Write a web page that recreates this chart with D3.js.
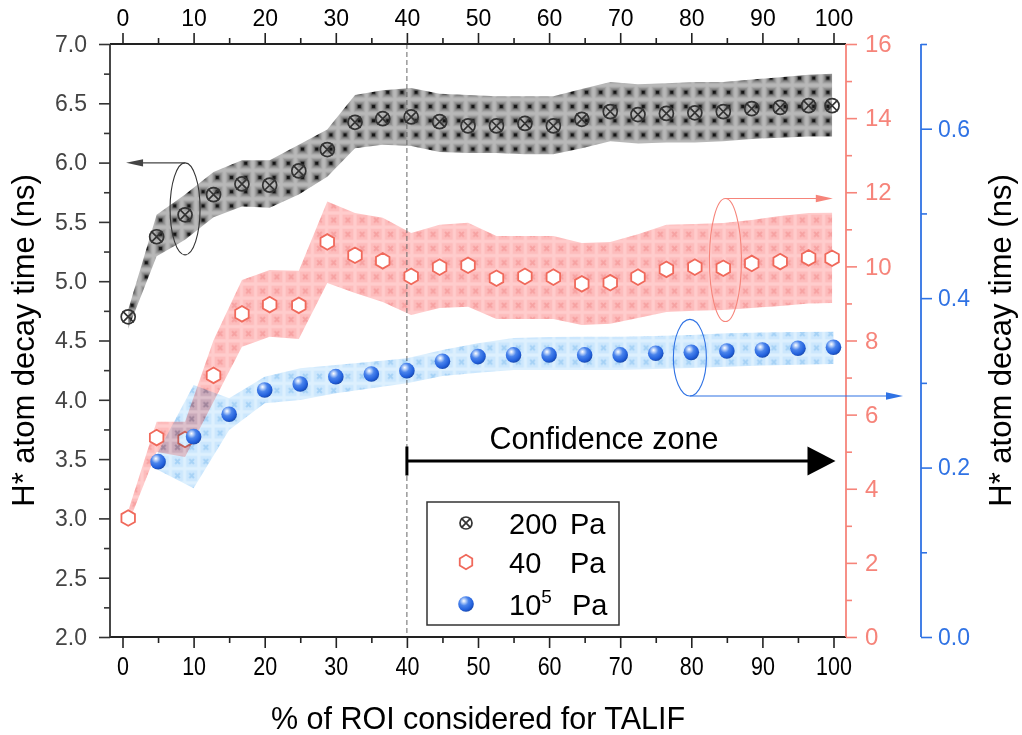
<!DOCTYPE html>
<html><head><meta charset="utf-8">
<script src="https://cdn.jsdelivr.net/npm/d3@7"></script>
<style>
body{margin:0;background:#fff;}
svg text{font-family:"Liberation Sans", Arial, Helvetica, sans-serif;}
</style></head><body>
<svg id="chart" width="1022" height="735"></svg>
<script>
// ---- data -------------------------------------------------------------
// % of ROI (shared by the 200 Pa and 40 Pa series)
const roiPct = [0.8,4.8,8.8,12.8,16.8,20.7,24.8,28.8,32.7,36.6,40.6,44.6,48.6,52.6,56.6,60.6,64.6,68.6,72.5,76.5,80.5,84.5,88.5,92.5,96.5,99.8];

// 200 Pa (left axis, ns)
const tau200   = [4.70,5.375,5.56,5.73,5.82,5.81,5.93,6.11,6.34,6.37,6.385,6.345,6.31,6.31,6.33,6.31,6.365,6.43,6.405,6.415,6.42,6.43,6.455,6.465,6.48,6.48];
const tau200Lo = [4.60,5.21,5.35,5.54,5.63,5.62,5.73,5.88,6.12,6.15,6.14,6.09,6.08,6.08,6.07,6.07,6.12,6.18,6.16,6.17,6.17,6.18,6.20,6.21,6.22,6.22];
const tau200Hi = [4.76,5.56,5.73,5.92,6.02,6.02,6.15,6.28,6.57,6.61,6.63,6.58,6.57,6.56,6.56,6.56,6.62,6.68,6.66,6.67,6.68,6.68,6.70,6.72,6.74,6.75];

// 40 Pa (pink axis, ns)
const tau40   = [3.21,5.38,5.33,7.06,8.72,8.97,8.95,10.66,10.30,10.15,9.73,9.98,10.03,9.68,9.73,9.71,9.53,9.56,9.71,9.92,9.98,9.95,10.08,10.13,10.23,10.22];
const tau40Lo = [3.05,4.99,4.86,6.35,7.83,8.10,8.04,9.55,9.28,9.04,8.69,8.88,8.91,8.58,8.58,8.58,8.42,8.45,8.61,8.77,8.80,8.82,8.88,8.93,9.00,9.01];
const tau40Hi = [3.40,5.81,5.81,8.01,9.63,9.90,9.88,11.75,11.44,11.31,10.90,11.12,11.18,10.82,10.82,10.82,10.63,10.66,10.87,11.12,11.14,11.17,11.25,11.36,11.44,11.45];

// 10^5 Pa (blue axis, ns)
const roiAtm   = [5,10,15,20,25,30,35,40,45,50,55,60,65,70,75,80,85,90,95,100];
const tauAtm   = [0.207,0.2365,0.263,0.2916,0.2987,0.3073,0.3105,0.3144,0.3255,0.331,0.333,0.333,0.333,0.333,0.335,0.336,0.3376,0.3388,0.3408,0.342];
const tauAtmLo = [0.1971,0.1755,0.2444,0.2759,0.2798,0.2877,0.2936,0.2995,0.3081,0.3120,0.3152,0.3152,0.3152,0.3152,0.3164,0.3176,0.3191,0.3205,0.3214,0.3223];
const tauAtmHi = [0.2184,0.2975,0.2818,0.3073,0.3172,0.3211,0.3250,0.3290,0.3388,0.3467,0.3530,0.3541,0.3545,0.3545,0.3553,0.3565,0.3585,0.3595,0.3601,0.3604];

// axis ticks
const xTicks = [0,10,20,30,40,50,60,70,80,90,100];
const xMinor = [5,15,25,35,45,55,65,75,85,95];
const leftTicks = [2.0,2.5,3.0,3.5,4.0,4.5,5.0,5.5,6.0,6.5,7.0];
const leftMinor = [2.25,2.75,3.25,3.75,4.25,4.75,5.25,5.75,6.25,6.75];
const pinkTicks = [0,2,4,6,8,10,12,14,16];
const pinkMinor = [1,3,5,7,9,11,13,15];
const blueTicks = [0.0,0.2,0.4,0.6];
const blueMinor = [0.1,0.3,0.5,0.7];

const legendLabels = ["200", "40", "10"];

// ---- layout ------------------------------------------------------------
const L = 110, R = 846, T = 44, B = 637, BLUE_AX = 921;
const PINK = "#f6847a", PINK_MK = "#f0695b", BLUE = "#2f72e4", DARK = "#333";

const svg = d3.select("#chart");
const x  = d3.scaleLinear([0,100],[122.5,833.5]);
const yL = d3.scaleLinear([2,7],[B,T]);
const yP = d3.scaleLinear([0,16],[B,T]);
const yB = d3.scaleLinear([0,0.7],[B,T]);

// ---- patterns / gradients ---------------------------------------------
const defs = svg.append("defs");
function cellPattern(id, bg, border, mark){
  const p = defs.append("pattern").attr("id",id).attr("patternUnits","userSpaceOnUse")
    .attr("width",14.2).attr("height",14.2);
  p.append("rect").attr("width",14.2).attr("height",14.2).attr("fill",border);
  p.append("rect").attr("x",1.6).attr("y",1.6).attr("width",11).attr("height",11).attr("fill",bg);
  p.append("path").attr("d","M4.8,4.8L9.4,9.4M9.4,4.8L4.8,9.4").attr("stroke",mark).attr("stroke-width",2);
  return p;
}
// gray box pattern: nested squares darkening toward a black core
const pg = defs.append("pattern").attr("id","pBlack").attr("patternUnits","userSpaceOnUse")
  .attr("width",14.2).attr("height",14.2).attr("x",-2.8).attr("y",0);
[[0,14.2,"#b8b8b8"],[1.6,11,"#a4a4a4"],[3,8.2,"#8c8c8c"],[4.4,5.4,"#626262"],[5.5,3.2,"#151515"]]
  .forEach(([o,s,c]) => pg.append("rect").attr("x",o).attr("y",o).attr("width",s).attr("height",s).attr("fill",c));
cellPattern("pPink","#fdbcbc","#ffcccc","#f7a2a2");
cellPattern("pBlue","#cce7fd","#ddf0fe","#a6d2f6");

const rg = defs.append("radialGradient").attr("id","gSphere").attr("cx","38%").attr("cy","34%").attr("r","70%").attr("fx","36%").attr("fy","30%");
[["0%","#ffffff"],["16%","#bcd3f9"],["42%","#4a84ec"],["78%","#2260dc"],["100%","#1746a8"]]
  .forEach(([o,c]) => rg.append("stop").attr("offset",o).attr("stop-color",c));

// ---- bands -------------------------------------------------------------
function band(xs, lo, hi, ys){
  return d3.area().x((d,i)=>x(xs[i])).y0((d,i)=>ys(lo[i])).y1((d,i)=>ys(hi[i]))(xs);
}
svg.append("path").attr("d",band(roiPct,tau200Lo,tau200Hi,yL)).attr("fill","url(#pBlack)");
svg.append("path").attr("d",band(roiPct,tau40Lo,tau40Hi,yP)).attr("fill","url(#pPink)");

// reference line at 40 %
svg.append("line").attr("x1",x(40)).attr("x2",x(40)).attr("y1",T).attr("y2",B)
  .attr("stroke","#666").attr("stroke-width",1).attr("stroke-dasharray","5,3");

// ---- markers -----------------------------------------------------------
function crossCircle(g, r){
  g.append("circle").attr("r",r).attr("fill","none").attr("stroke",DARK).attr("stroke-width",1.7);
  const k = r*0.8;
  g.append("path").attr("d",`M${-k},${-k}L${k},${k}M${k},${-k}L${-k},${k}`).attr("stroke",DARK).attr("stroke-width",1.7);
}
function hexagon(g, r, fill){
  const pts = d3.range(6).map(i => { const a = Math.PI/3*i - Math.PI/2; return [r*Math.cos(a), r*Math.sin(a)]; });
  g.append("polygon").attr("points",pts.map(p=>p.join(",")).join(" "))
   .attr("fill",fill).attr("stroke",PINK_MK).attr("stroke-width",1.8);
}
function sphere(g, r){
  g.append("circle").attr("r",r).attr("fill","url(#gSphere)");
}

svg.append("g").selectAll("g").data(roiPct).join("g")
  .attr("transform",(d,i)=>`translate(${x(d)},${yL(tau200[i])})`)
  .each(function(){ crossCircle(d3.select(this),7); });

svg.append("g").selectAll("g").data(roiPct).join("g")
  .attr("transform",(d,i)=>`translate(${x(d)},${yP(tau40[i])})`)
  .each(function(){ hexagon(d3.select(this),7.8,"#fff"); });

svg.append("path").attr("d",band(roiAtm,tauAtmLo,tauAtmHi,yB)).attr("fill","url(#pBlue)")
  .style("mix-blend-mode","multiply");

svg.append("g").selectAll("g").data(roiAtm).join("g")
  .attr("transform",(d,i)=>`translate(${x(d)},${yB(tauAtm[i])})`)
  .each(function(){ sphere(d3.select(this),7.8); });

// ---- axes --------------------------------------------------------------
function styleAxis(g, color, labelColor, size){
  g.select(".domain").remove();
  g.selectAll(".tick line").attr("stroke",color).attr("stroke-width",1.6);
  g.selectAll(".tick text").attr("fill",labelColor).attr("font-size",size)
   .style("font-family",'"Liberation Sans", Arial, sans-serif');
}
const fmt1 = d3.format(".1f");

// bottom (slightly condensed digits)
let g = svg.append("g").attr("transform",`translate(0,${B})`)
  .call(d3.axisBottom(x).tickValues(xTicks).tickSize(11).tickPadding(9));
styleAxis(g,"#222","#000",25);
g.selectAll(".tick text").attr("transform","scale(0.86,1)");
g = svg.append("g").attr("transform",`translate(0,${B})`)
  .call(d3.axisBottom(x).tickValues(xMinor).tickSize(6).tickFormat(""));
styleAxis(g,"#222","#000",23);
// top
g = svg.append("g").attr("transform",`translate(0,${T})`)
  .call(d3.axisTop(x).tickValues(xTicks).tickSize(11).tickPadding(7));
styleAxis(g,"#222","#000",23);
g = svg.append("g").attr("transform",`translate(0,${T})`)
  .call(d3.axisTop(x).tickValues(xMinor).tickSize(6).tickFormat(""));
styleAxis(g,"#222","#000",23);
// left
g = svg.append("g").attr("transform",`translate(${L},0)`)
  .call(d3.axisLeft(yL).tickValues(leftTicks).tickSize(11).tickPadding(12).tickFormat(fmt1));
styleAxis(g,DARK,"#444",23);
g = svg.append("g").attr("transform",`translate(${L},0)`)
  .call(d3.axisLeft(yL).tickValues(leftMinor).tickSize(6).tickFormat(""));
styleAxis(g,DARK,"#444",23);
// pink right
g = svg.append("g").attr("transform",`translate(${R},0)`)
  .call(d3.axisRight(yP).tickValues(pinkTicks).tickSize(11).tickPadding(8));
styleAxis(g,PINK,PINK,24);
g = svg.append("g").attr("transform",`translate(${R},0)`)
  .call(d3.axisRight(yP).tickValues(pinkMinor).tickSize(6).tickFormat(""));
styleAxis(g,PINK,PINK,23);
// blue right
g = svg.append("g").attr("transform",`translate(${BLUE_AX},0)`)
  .call(d3.axisRight(yB).tickValues(blueTicks).tickSize(11).tickPadding(6).tickFormat(fmt1));
styleAxis(g,BLUE,BLUE,23);
g = svg.append("g").attr("transform",`translate(${BLUE_AX},0)`)
  .call(d3.axisRight(yB).tickValues(blueMinor).tickSize(6).tickFormat(""));
styleAxis(g,BLUE,BLUE,23);

// axis lines
svg.append("line").attr("x1",L).attr("x2",R).attr("y1",B).attr("y2",B).attr("stroke","#222").attr("stroke-width",1.8);
svg.append("line").attr("x1",L).attr("x2",R).attr("y1",T).attr("y2",T).attr("stroke","#222").attr("stroke-width",1.8);
svg.append("line").attr("x1",L).attr("x2",L).attr("y1",T).attr("y2",B).attr("stroke",DARK).attr("stroke-width",1.8);
svg.append("line").attr("x1",R).attr("x2",R).attr("y1",T).attr("y2",B).attr("stroke",PINK).attr("stroke-width",1.8);
svg.append("line").attr("x1",BLUE_AX).attr("x2",BLUE_AX).attr("y1",T).attr("y2",B).attr("stroke",BLUE).attr("stroke-width",1.8);

// axis titles
svg.append("text").attr("transform",`translate(34,${(T+B)/2}) rotate(-90)`).attr("text-anchor","middle")
  .attr("font-size",31).attr("fill","#000").text("H* atom decay time (ns)");
svg.append("text").attr("transform",`translate(1011,${(T+B)/2}) rotate(-90)`).attr("text-anchor","middle")
  .attr("font-size",31).attr("fill","#000").text("H* atom decay time (ns)");
svg.append("text").attr("x",(L+R)/2).attr("y",729).attr("text-anchor","middle")
  .attr("font-size",30.5).attr("fill","#000").text("% of ROI considered for TALIF");

// ---- annotations -------------------------------------------------------
function arrowHead(xTip, y, dir, len, half, color){
  return svg.append("polygon")
    .attr("points",`${xTip},${y} ${xTip-dir*len},${y-half} ${xTip-dir*len},${y+half}`)
    .attr("fill",color);
}
// 200 Pa -> left axis
{
  const cx = x(roiPct[2]), cy = yL(5.61), rx = 15, ry = 46;
  svg.append("ellipse").attr("cx",cx).attr("cy",cy).attr("rx",rx).attr("ry",ry)
    .attr("fill","none").attr("stroke",DARK).attr("stroke-width",1.1);
  const tip = x(0.5);
  svg.append("line").attr("x1",cx).attr("x2",tip+14).attr("y1",cy-ry).attr("y2",cy-ry).attr("stroke","#444").attr("stroke-width",1.1);
  arrowHead(tip, cy-ry, -1, 17, 3.6, "#444");
}
// 40 Pa -> pink axis
{
  const cx = x(84.8), cy = yP(10.17), rx = 16, ry = 61.5;
  svg.append("ellipse").attr("cx",cx).attr("cy",cy).attr("rx",rx).attr("ry",ry)
    .attr("fill","none").attr("stroke",PINK).attr("stroke-width",1.1);
  const tip = x(99.9);
  svg.append("line").attr("x1",cx).attr("x2",tip-14).attr("y1",cy-ry).attr("y2",cy-ry).attr("stroke",PINK).attr("stroke-width",1.1);
  arrowHead(tip, cy-ry, 1, 17, 3.8, PINK);
}
// 10^5 Pa -> blue axis
{
  const cx = x(79.8), cy = yB(0.3297), rx = 16.5, ry = 38.3;
  svg.append("ellipse").attr("cx",cx).attr("cy",cy).attr("rx",rx).attr("ry",ry)
    .attr("fill","none").attr("stroke",BLUE).attr("stroke-width",1.1);
  const tip = BLUE_AX - 18;
  svg.append("line").attr("x1",cx).attr("x2",tip-14).attr("y1",cy+ry).attr("y2",cy+ry).attr("stroke",BLUE).attr("stroke-width",1.1);
  arrowHead(tip, cy+ry, 1, 17, 3.8, BLUE);
}

// confidence zone
{
  const y0 = yL(3.484), x0 = x(40), x1 = x(100) + 2;
  svg.append("text").attr("x",604).attr("y",y0-12).attr("text-anchor","middle")
    .attr("font-size",30.5).attr("fill","#000").text("Confidence zone");
  svg.append("line").attr("x1",x0).attr("x2",x1-26).attr("y1",y0).attr("y2",y0).attr("stroke","#000").attr("stroke-width",3);
  svg.append("line").attr("x1",x0).attr("x2",x0).attr("y1",y0-14.5).attr("y2",y0+14.5).attr("stroke","#000").attr("stroke-width",3);
  arrowHead(x1, y0, 1, 28, 14.5, "#000");
}

// ---- legend ------------------------------------------------------------
{
  const lg = svg.append("g");
  lg.append("rect").attr("x",427).attr("y",502).attr("width",192).attr("height",123)
    .attr("fill","#fff").attr("stroke",DARK).attr("stroke-width",1.5);
  const rowsY = [523, 562, 604];
  crossCircle(lg.append("g").attr("transform",`translate(466,${rowsY[0]})`),6);
  hexagon(lg.append("g").attr("transform",`translate(466,${rowsY[1]})`),7.2,"none");
  sphere(lg.append("g").attr("transform",`translate(466,${rowsY[2]})`),7.8);
  legendLabels.forEach((t,i) => {
    const tx = lg.append("text").attr("x",509).attr("y",rowsY[i]+11).attr("font-size",29).attr("fill","#000").text(t);
    if(i===2){
      tx.append("tspan").attr("font-size",19).attr("dy",-12).text("5");
    }
    lg.append("text").attr("x",i===2?572:570).attr("y",rowsY[i]+11).attr("font-size",29).attr("fill","#000").text("Pa");
  });
}
</script>
</body></html>
